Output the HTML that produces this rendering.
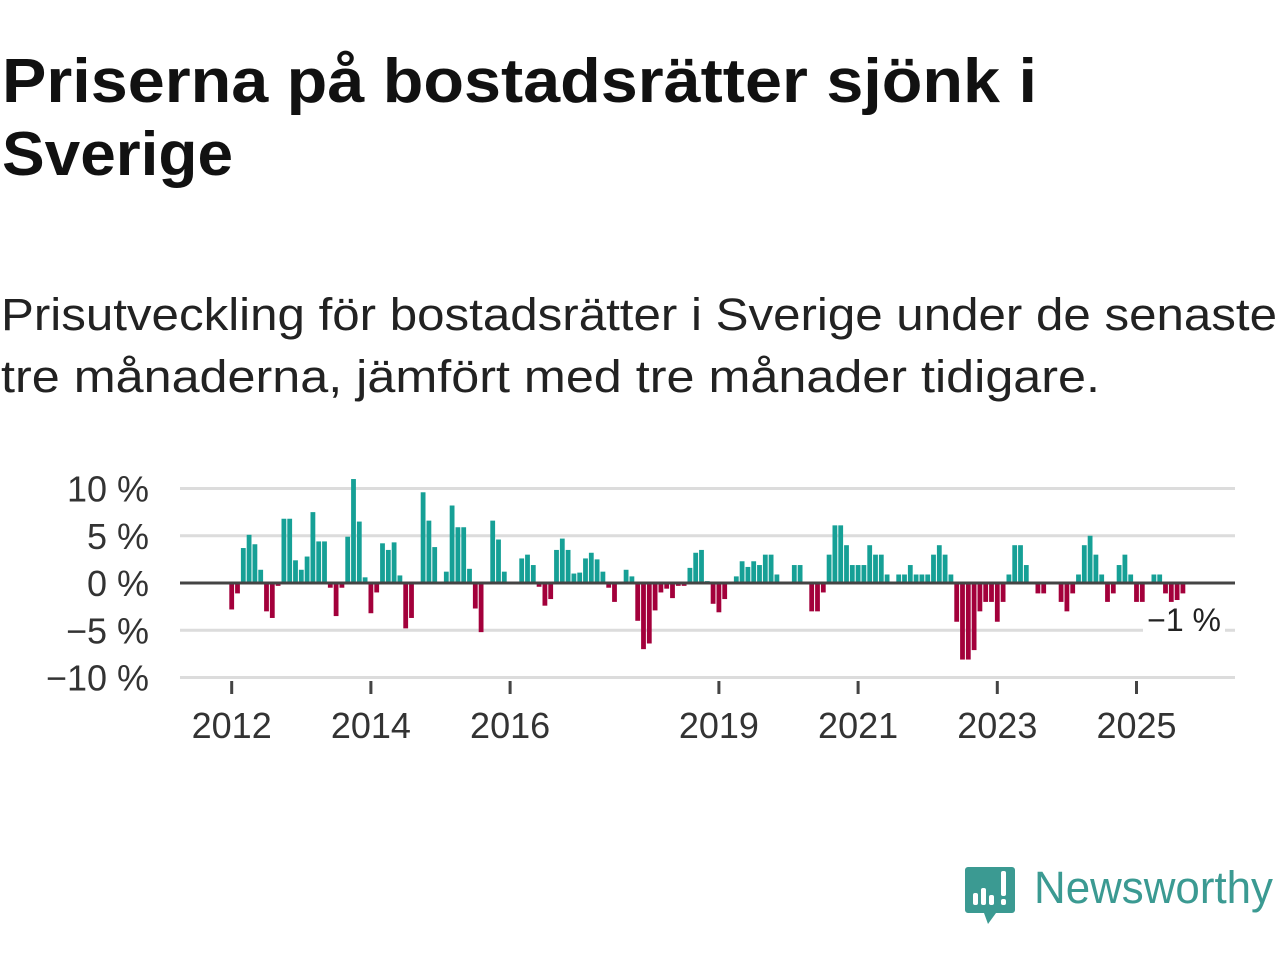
<!DOCTYPE html>
<html><head><meta charset="utf-8">
<style>
html,body{margin:0;padding:0;background:#fff;}
svg{display:block;font-family:"Liberation Sans",sans-serif;}
</style></head>
<body>
<svg width="1280" height="960" viewBox="0 0 1280 960">
  <text x="2" y="102" font-size="62" font-weight="bold" fill="#111" textLength="1035" lengthAdjust="spacingAndGlyphs">Priserna på bostadsrätter sjönk i</text>
  <text x="2" y="175" font-size="62" font-weight="bold" fill="#111" textLength="231" lengthAdjust="spacingAndGlyphs">Sverige</text>
  <text x="1" y="330" font-size="45" fill="#222" textLength="1276" lengthAdjust="spacingAndGlyphs">Prisutveckling för bostadsrätter i Sverige under de senaste</text>
  <text x="1" y="392" font-size="45" fill="#222" textLength="1099" lengthAdjust="spacingAndGlyphs">tre månaderna, jämfört med tre månader tidigare.</text>
  <g id="grid"></g>
  <g id="yticks"></g>
  <g id="bars"></g>
  <g id="xaxis"></g>
  <g>
    <rect x="1143" y="602" width="82" height="36" fill="#fff"/>
    <text x="1221" y="631" font-size="32" fill="#222" text-anchor="end">−1 %</text>
  </g>
  <g>
    <path d="M968 867 h44 a3 3 0 0 1 3 3 v40 a3 3 0 0 1 -3 3 h-16 l-8 11 l-4 -11 h-16 a3 3 0 0 1 -3 -3 v-40 a3 3 0 0 1 3 -3z" fill="#3b9a92"/>
    <rect x="973" y="893" width="5" height="12" rx="2" fill="#fff"/>
    <rect x="981" y="888" width="5" height="17" rx="2" fill="#fff"/>
    <rect x="989" y="895" width="5" height="10" rx="2" fill="#fff"/>
    <rect x="1001" y="871" width="5" height="25" rx="2" fill="#fff"/>
    <rect x="1001" y="899" width="5" height="6" rx="2" fill="#fff"/>
    <text x="1034" y="903" font-size="45" fill="#3b9a92" textLength="239" lengthAdjust="spacingAndGlyphs">Newsworthy</text>
  </g>
</svg>
<script>
const values = [
 -2.8,-1.1,3.7,5.1,4.1,1.4,-3.0,-3.7,-0.3,6.8,6.8,2.4,1.4,2.8,7.5,4.4,4.4,-0.5,-3.5,-0.5,
 4.9,11.0,6.5,0.6,-3.2,-1.0,4.2,3.5,4.3,0.8,-4.8,-3.7,0,9.6,6.6,3.8,0,1.2,8.2,5.9,
 5.9,1.5,-2.7,-5.2,0,6.6,4.6,1.2,0,0,2.6,3.0,1.9,-0.4,-2.4,-1.7,3.5,4.7,3.5,1.0,
 1.1,2.6,3.2,2.5,1.2,-0.5,-2.0,0,1.4,0.7,-4.0,-7.0,-6.4,-2.9,-1.0,-0.6,-1.6,-0.3,-0.3,1.6,
 3.2,3.5,0.2,-2.2,-3.1,-1.7,0,0.7,2.3,1.7,2.3,1.9,3.0,3.0,0.9,0,0,1.9,1.9,0,
 -3.0,-3.0,-1.0,3.0,6.1,6.1,4.0,1.9,1.9,1.9,4.0,3.0,3.0,0.9,0,0.9,0.9,1.9,0.9,0.9,
 0.9,3.0,4.0,3.0,0.9,-4.1,-8.1,-8.1,-7.1,-3.0,-2.0,-2.0,-4.1,-2.0,0.9,4.0,4.0,1.9,0,-1.1,
 -1.1,0,0,-2.0,-3.0,-1.1,0.9,4.0,5.0,3.0,0.9,-2.0,-1.1,1.9,3.0,0.9,-2.0,-2.0,0,0.9,
 0.9,-1.1,-2.0,-1.8,-1.1
];
const startYear = 2012;
const yTickValues = [10, 5, 0, -5, -10];
const yTickLabels = ["10 %", "5 %", "0 %", "−5 %", "−10 %"];
const xTickYears = [2012, 2014, 2016, 2019, 2021, 2023, 2025];

const NS = "http://www.w3.org/2000/svg";
const X0 = 231.7, STEP = 5.8, PLOT_L = 180, PLOT_R = 1235;
const xScale = m => X0 + STEP * m;
const yScale = v => 583 - 9.45 * v;
function mk(tag, attrs, parent) {
  const e = document.createElementNS(NS, tag);
  for (const k in attrs) e.setAttribute(k, attrs[k]);
  parent.appendChild(e);
  return e;
}
const grid = document.getElementById('grid');
const yt = document.getElementById('yticks');
yTickValues.forEach((v, i) => {
  if (v !== 0) {
    const l = mk('line', {x1: PLOT_L, x2: PLOT_R, y1: yScale(v), y2: yScale(v), stroke: '#dcdcdc', 'stroke-width': 3}, grid);
    
    
  }
  const t = mk('text', {x: 149, y: yScale(v) + 13, 'font-size': 36, fill: '#333', 'text-anchor': 'end'}, yt);
  t.textContent = yTickLabels[i];
  
  
});
const bars = document.getElementById('bars');
values.forEach((v, i) => {
  if (v === 0) return;
  const y0 = yScale(0), y1 = yScale(v);
  const r = mk('rect', {x: xScale(i) - 2.4, width: 4.8, y: Math.min(y0, y1), height: Math.abs(y1 - y0), fill: v > 0 ? '#16a096' : '#a3003b'}, bars);
  
  
});
const xa = document.getElementById('xaxis');
const zl = mk('line', {x1: PLOT_L, x2: PLOT_R, y1: yScale(0), y2: yScale(0), stroke: '#444', 'stroke-width': 3}, xa);


xTickYears.forEach(yr => {
  const x = xScale((yr - startYear) * 12);
  const tk = mk('line', {x1: x, x2: x, y1: 681, y2: 694, stroke: '#444', 'stroke-width': 3}, xa);
  
  
  const t = mk('text', {x: x, y: 738, 'font-size': 36, fill: '#333', 'text-anchor': 'middle'}, xa);
  t.textContent = String(yr);
  
  
});
</script>
</body></html>
